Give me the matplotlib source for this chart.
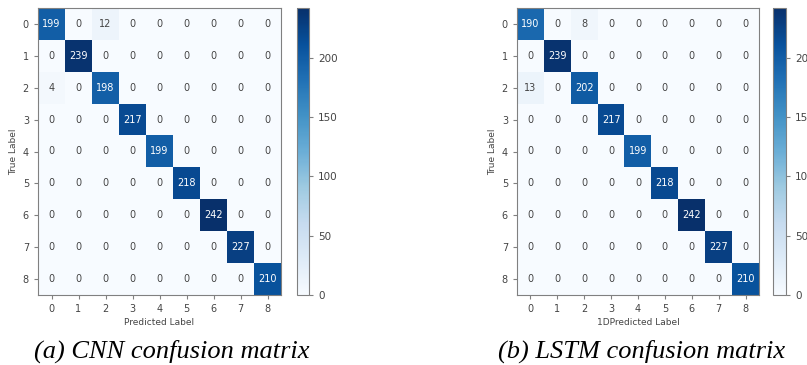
import numpy as np
import matplotlib
matplotlib.use("Agg")
import matplotlib.pyplot as plt

# Confusion matrices
labels = [str(i) for i in range(9)]
cnn_cm = np.array([
    [199, 0, 12, 0, 0, 0, 0, 0, 0],
    [0, 239, 0, 0, 0, 0, 0, 0, 0],
    [4, 0, 198, 0, 0, 0, 0, 0, 0],
    [0, 0, 0, 217, 0, 0, 0, 0, 0],
    [0, 0, 0, 0, 199, 0, 0, 0, 0],
    [0, 0, 0, 0, 0, 218, 0, 0, 0],
    [0, 0, 0, 0, 0, 0, 242, 0, 0],
    [0, 0, 0, 0, 0, 0, 0, 227, 0],
    [0, 0, 0, 0, 0, 0, 0, 0, 210],
])
lstm_cm = np.array([
    [190, 0, 8, 0, 0, 0, 0, 0, 0],
    [0, 239, 0, 0, 0, 0, 0, 0, 0],
    [13, 0, 202, 0, 0, 0, 0, 0, 0],
    [0, 0, 0, 217, 0, 0, 0, 0, 0],
    [0, 0, 0, 0, 199, 0, 0, 0, 0],
    [0, 0, 0, 0, 0, 218, 0, 0, 0],
    [0, 0, 0, 0, 0, 0, 242, 0, 0],
    [0, 0, 0, 0, 0, 0, 0, 227, 0],
    [0, 0, 0, 0, 0, 0, 0, 0, 210],
])
cbar_ticks = [0, 50, 100, 150, 200]
panels = [
    (cnn_cm, "Predicted Label", "(a) CNN confusion matrix"),
    (lstm_cm, "1DPredicted Label", "(b) LSTM confusion matrix"),
]

W, H = 807, 365
fig = plt.figure(figsize=(W / 100, H / 100), dpi=100)


def px_axes(x0, y0, x1, y1):
    # pixel box (top-left origin) -> figure fraction
    return fig.add_axes([x0 / W, 1 - y1 / H, (x1 - x0) / W, (y1 - y0) / H])


layout = [
    dict(ax=(38, 8, 281, 295), cb=(297, 8, 309, 295), title_x=172),
    dict(ax=(517, 8, 759, 295), cb=(773, 8, 786, 295), title_x=642),
]

spine_c = "#808080"
text_c = "#444444"
vmax = 242

for (cm, xlabel, title), lay in zip(panels, layout):
    ax = px_axes(*lay["ax"])
    im = ax.imshow(cm, cmap="Blues", vmin=0, vmax=vmax, aspect="auto",
                   interpolation="nearest")
    for i in range(cm.shape[0]):
        for j in range(cm.shape[1]):
            v = cm[i, j]
            col = "white" if v > vmax / 2 else text_c
            ax.text(j, i, str(v), ha="center", va="center", fontsize=7, color=col)
    ax.set_xticks(range(len(labels)))
    ax.set_yticks(range(len(labels)))
    ax.set_xticklabels(labels)
    ax.set_yticklabels(labels)
    ax.tick_params(labelsize=7, colors=text_c, length=3, color=spine_c)
    ax.set_xlabel(xlabel, fontsize=6.5, color=text_c, labelpad=3)
    ax.set_ylabel("True Label", fontsize=6.5, color=text_c, labelpad=3)
    for s in ax.spines.values():
        s.set_color(spine_c)

    cax = px_axes(*lay["cb"])
    cb = fig.colorbar(im, cax=cax, ticks=cbar_ticks)
    cb.outline.set_edgecolor(spine_c)
    cax.tick_params(labelsize=7.5, colors=text_c, length=3, color=spine_c)

    fig.text(lay["title_x"] / W, 1 - 351 / H, title, ha="center", va="center",
             fontsize=19, style="italic", family="Liberation Serif", color="black")

fig.savefig("out.png", dpi=100)
